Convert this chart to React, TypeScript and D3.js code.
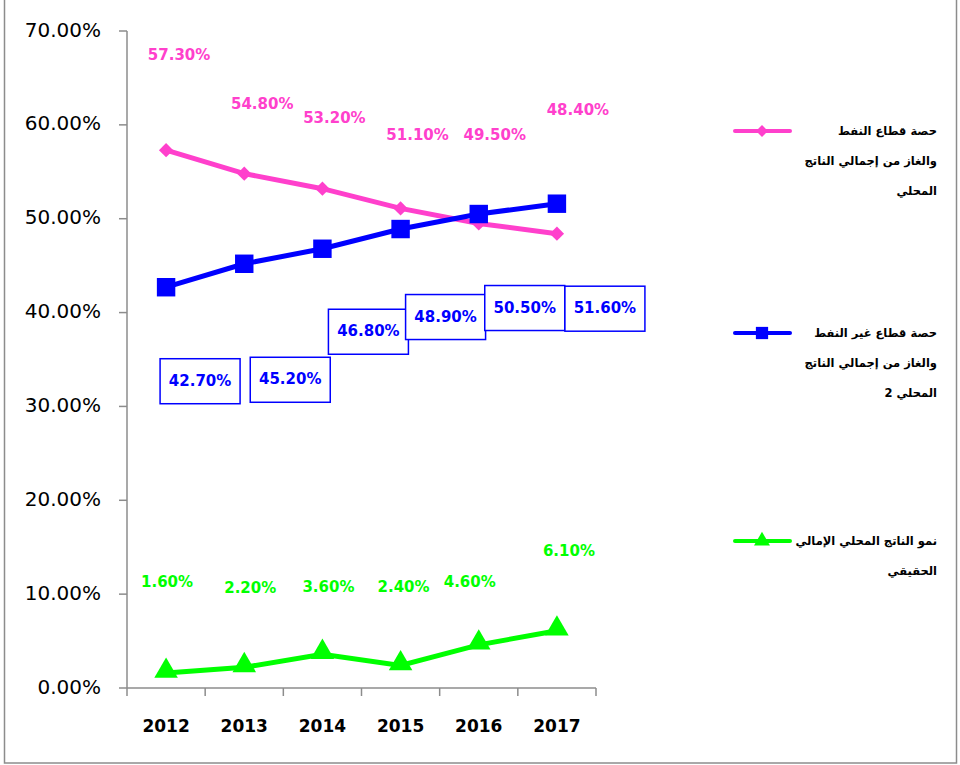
import React from "react";
import * as d3 from "d3";

const years = ["2012", "2013", "2014", "2015", "2016", "2017"];
const oilShare = [57.3, 54.8, 53.2, 51.1, 49.5, 48.4];
const nonOilShare = [42.7, 45.2, 46.8, 48.9, 50.5, 51.6];
const gdpGrowth = [1.6, 2.2, 3.6, 2.4, 4.6, 6.1];
const yTicks = [0, 10, 20, 30, 40, 50, 60, 70];

const legendOil = ["حصة قطاع النفط", "والغاز من إجمالي الناتج", "المحلي"];
const legendNonOil = ["حصة قطاع غير النفط", "والغاز من إجمالي الناتج", "المحلي 2"];
const legendGrowth = ["نمو الناتج المحلي الإمالي", "الحقيقي"];

// label layout offsets (pixels relative to point)
const oilLabelDx = [13, 18, 12, 17, 16, 21];
const oilLabelDy = [-95, -69, -70, -73, -88, -123];
const nonOilLabelDx = [34, 46, 46, 45, 46, 48];
const nonOilLabelDy = [94, 116, 83, 88, 94, 105];
const growthLabelDx = [1, 6, 6, 3, -9, 12];
const growthLabelDy = [-90, -79, -67, -78, -62, -79];

const PINK = "#ff40cc";
const BLUE = "#0000ff";
const GREEN = "#00ff00";
const AXIS = "#8c8c8c";

export default function App() {
  const x = d3.scaleBand<string>().domain(years).range([127, 596]);
  const y = d3.scaleLinear().domain([0, 70]).range([688, 31]);
  const cx = (d: string) => (x(d) as number) + x.bandwidth() / 2;
  const line = d3
    .line<number>()
    .x((_, i) => cx(years[i]))
    .y((v) => y(v));
  const fmt = (v: number) => v.toFixed(2) + "%";
  const diamond = d3.symbol().type(d3.symbolDiamond2).size(130)();
  const square = d3.symbol().type(d3.symbolSquare).size(340)();
  const tri = d3.symbol().type(d3.symbolTriangle).size(240)();
  const legSquare = d3.symbol().type(d3.symbolSquare).size(150)();
  const legDiamond = d3.symbol().type(d3.symbolDiamond2).size(90)();
  const legTri = d3.symbol().type(d3.symbolTriangle).size(110)();
  const ticksX = years.map((d) => x(d) as number).concat([596]);
  const labelFont = "DejaVu Sans, Verdana, sans-serif";

  const legend = (lines: string[], y0: number, color: string, marker: string | null) => (
    <g>
      <line x1={735} x2={790} y1={y0} y2={y0} stroke={color} strokeWidth={4} strokeLinecap="round" />
      <path d={marker || ""} transform={`translate(762,${y0})`} fill={color} />
      {lines.map((t, i) => (
        <text
          key={i}
          x={937}
          y={y0 + i * 30}
          direction="rtl"
          textAnchor="start"
          dominantBaseline="middle"
          fontFamily={labelFont}
          fontWeight="bold"
          fontSize={11.5}
          fill="#000"
        >
          {t}
        </text>
      ))}
    </g>
  );

  return (
    <div style={{ position: "absolute", left: 0, top: 0 }}>
      <svg width={960} height={765} style={{ display: "block" }}>
        <rect x={0} y={0} width={960} height={765} fill="#fff" />
        <rect x={4.5} y={-2} width={952} height={765} fill="none" stroke={AXIS} strokeWidth={1.5} />
        {/* Y axis */}
        <line x1={127} x2={127} y1={y(70)} y2={y(0)} stroke={AXIS} strokeWidth={1.5} />
        {yTicks.map((t) => (
          <g key={t}>
            <line x1={119} x2={127} y1={y(t)} y2={y(t)} stroke={AXIS} strokeWidth={1.5} />
            <text
              x={101}
              y={y(t)}
              textAnchor="end"
              dominantBaseline="middle"
              fontFamily={labelFont}
              fontSize={20}
              fill="#000"
            >
              {t.toFixed(2) + "%"}
            </text>
          </g>
        ))}
        {/* X axis */}
        <line x1={127} x2={596} y1={y(0)} y2={y(0)} stroke={AXIS} strokeWidth={1.5} />
        {ticksX.map((tx, i) => (
          <line key={i} x1={tx} x2={tx} y1={y(0)} y2={y(0) + 8} stroke={AXIS} strokeWidth={1.5} />
        ))}
        {years.map((d) => (
          <text
            key={d}
            x={cx(d)}
            y={727}
            textAnchor="middle"
            dominantBaseline="middle"
            fontFamily={labelFont}
            fontWeight="bold"
            fontSize={17}
            fill="#000"
          >
            {d}
          </text>
        ))}
        {/* Series lines */}
        <path d={line(oilShare) || ""} fill="none" stroke={PINK} strokeWidth={5} />
        <path d={line(nonOilShare) || ""} fill="none" stroke={BLUE} strokeWidth={5} />
        <path d={line(gdpGrowth) || ""} fill="none" stroke={GREEN} strokeWidth={5} />
        {oilShare.map((v, i) => (
          <path key={"o" + i} d={diamond || ""} transform={`translate(${cx(years[i])},${y(v)})`} fill={PINK} />
        ))}
        {nonOilShare.map((v, i) => (
          <path key={"n" + i} d={square || ""} transform={`translate(${cx(years[i])},${y(v)})`} fill={BLUE} />
        ))}
        {gdpGrowth.map((v, i) => (
          <path key={"g" + i} d={tri || ""} transform={`translate(${cx(years[i])},${y(v) - 2})`} fill={GREEN} />
        ))}
        {/* Labels */}
        {oilShare.map((v, i) => (
          <text
            key={"ol" + i}
            x={cx(years[i]) + oilLabelDx[i]}
            y={y(v) + oilLabelDy[i]}
            textAnchor="middle"
            dominantBaseline="middle"
            fontFamily={labelFont}
            fontWeight="bold"
            fontSize={15}
            fill={PINK}
          >
            {fmt(v)}
          </text>
        ))}
        {nonOilShare.map((v, i) => {
          const lx = cx(years[i]) + nonOilLabelDx[i];
          const ly = y(v) + nonOilLabelDy[i];
          return (
            <g key={"nl" + i}>
              <rect x={lx - 40} y={ly - 22.5} width={80} height={45} fill="#fff" stroke={BLUE} strokeWidth={1.5} />
              <text
                x={lx}
                y={ly}
                textAnchor="middle"
                dominantBaseline="middle"
                fontFamily={labelFont}
                fontWeight="bold"
                fontSize={15}
                fill={BLUE}
              >
                {fmt(v)}
              </text>
            </g>
          );
        })}
        {gdpGrowth.map((v, i) => (
          <text
            key={"gl" + i}
            x={cx(years[i]) + growthLabelDx[i]}
            y={y(v) + growthLabelDy[i]}
            textAnchor="middle"
            dominantBaseline="middle"
            fontFamily={labelFont}
            fontWeight="bold"
            fontSize={15}
            fill={GREEN}
          >
            {fmt(v)}
          </text>
        ))}
        {/* Legend */}
        {legend(legendOil, 131, PINK, legDiamond)}
        {legend(legendNonOil, 333, BLUE, legSquare)}
        {legend(legendGrowth, 541, GREEN, legTri)}
      </svg>
    </div>
  );
}
